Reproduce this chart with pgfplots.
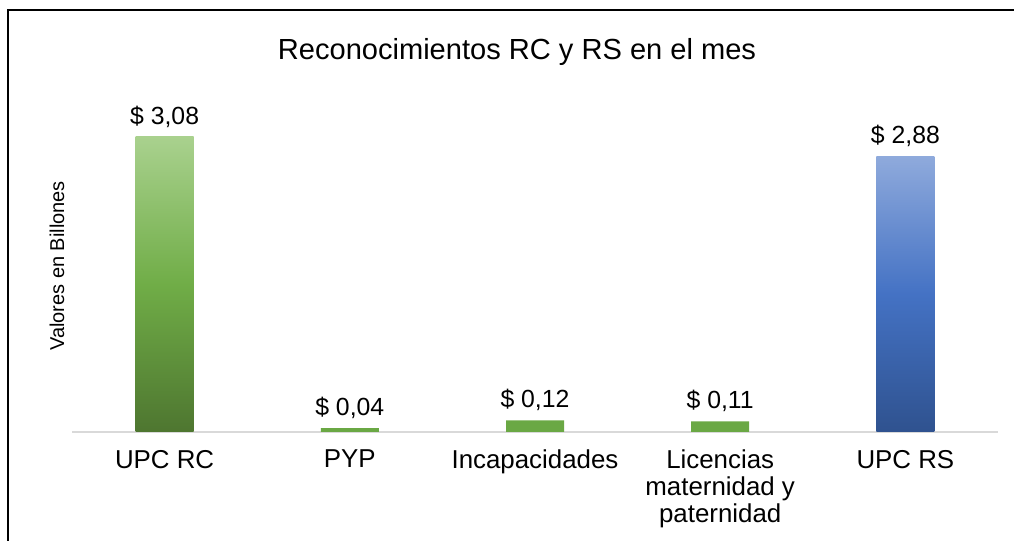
\documentclass[border=0pt]{standalone}
\usepackage{pgfplots}
\pgfplotsset{compat=1.18}
\usepackage{fontspec}
\setmainfont{Liberation Sans}
\definecolor{gtop}{RGB}{169,209,142}
\definecolor{gmid}{RGB}{112,173,71}
\definecolor{gsmall}{RGB}{106,168,68}
\definecolor{gbot}{RGB}{78,118,48}
\definecolor{btop}{RGB}{143,170,220}
\definecolor{bmid}{RGB}{68,114,196}
\definecolor{bbot}{RGB}{47,82,143}
\definecolor{axgray}{RGB}{217,217,217}
\begin{document}
\begin{tikzpicture}[x=0.75pt,y=0.75pt]
\path[use as bounding box] (0,0) rectangle (1014,541);
\draw[line width=2.2pt] (8,-5) -- (8,531) -- (1020,531);
\node[font=\fontsize{21.8}{26}\selectfont] at (517,489) {Reconocimientos RC y RS en el mes};
\node[rotate=90,font=\fontsize{15}{18}\selectfont] at (57,275) {Valores en Billones};
\begin{axis}[
  at={(54pt,81.75pt)}, anchor=south west,
  scale only axis, width=694.5pt, height=251.5pt,
  xmin=-0.5, xmax=4.5, ymin=0, ymax=3.5,
  axis x line=bottom, axis y line=none,
  x axis line style={-, draw=axgray, line width=1.1pt},
  xtick={0,1,2,3,4},
  xticklabels={UPC RC, PYP, Incapacidades, {Licencias\\maternidad y\\paternidad}, UPC RS},
  major tick length=0pt,
  xticklabel style={align=center, font=\fontsize{19.4}{20.1}\selectfont, yshift=-10pt},
  ytick=\empty,
  ybar, bar width=43.5pt, bar shift=0pt,
  nodes near coords, point meta=explicit symbolic,
  every node near coord/.append style={font=\fontsize{18.6}{22}\selectfont, yshift=3.75pt},
  clip=false,
]
\addplot[draw=none, top color=gtop, bottom color=gbot, middle color=gmid] coordinates {
  (0,3.08) [\$ 3,08]
};
\addplot[draw=none, fill=gsmall] coordinates {
  (1,0.04) [\$ 0,04]
  (2,0.12) [\$ 0,12]
  (3,0.11) [\$ 0,11]
};
\addplot[draw=none, top color=btop, bottom color=bbot, middle color=bmid] coordinates {
  (4,2.88) [\$ 2,88]
};
\end{axis}
\end{tikzpicture}
\end{document}
